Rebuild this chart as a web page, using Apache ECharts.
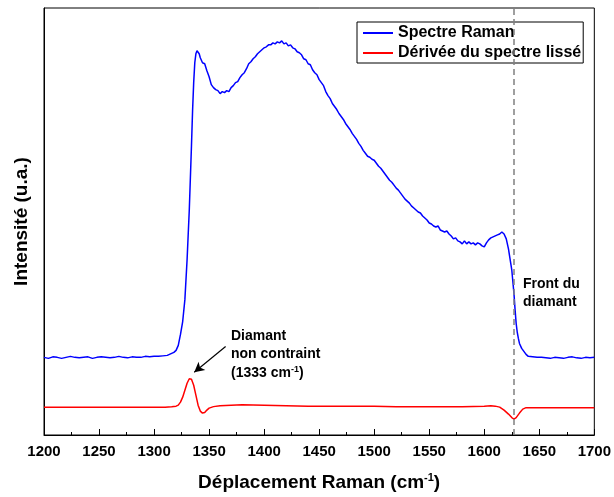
<!DOCTYPE html>
<html><head><meta charset="utf-8">
<script src="https://cdn.jsdelivr.net/npm/echarts@6/dist/echarts.min.js"></script>
<style>html,body{margin:0;padding:0;background:#fff}#c{width:614px;height:497px}</style>
</head><body><div id="c"></div>
<script>
var ramanX = [1200,1204,1208,1212,1216,1220,1224,1228,1232,1236,1240,1244,1248,1252,1256,1260,1264,1268,1272,1276,1280,1284,1288,1292,1296,1300,1304,1308,1312,1316,1318,1320,1322,1324,1326,1328,1330,1332,1334,1335,1336,1337,1338,1339,1340,1341,1342,1344,1346,1348,1350,1352,1354,1356,1358,1360,1362,1364,1366,1368,1370,1372,1374,1376,1378,1380,1382,1384,1386,1388,1390,1392,1394,1396,1398,1400,1402,1404,1406,1408,1410,1412,1414,1416,1418,1420,1422,1424,1426,1428,1430,1432,1434,1436,1438,1440,1442,1444,1446,1448,1450,1452,1454,1456,1458,1460,1462,1464,1466,1468,1470,1472,1474,1476,1478,1480,1482,1484,1486,1488,1490,1492,1494,1496,1498,1500,1502,1504,1506,1508,1510,1512,1514,1516,1518,1520,1522,1524,1526,1528,1530,1532,1534,1536,1538,1540,1542,1544,1546,1548,1550,1552,1554,1556,1558,1560,1562,1564,1566,1568,1570,1572,1574,1576,1578,1580,1582,1584,1586,1588,1590,1592,1594,1596,1598,1600,1602,1604,1606,1608,1610,1612,1614,1616,1618,1620,1622,1623,1624,1625,1626,1627,1628,1629,1630,1631,1632,1634,1636,1638,1640,1644,1648,1652,1656,1660,1664,1668,1672,1676,1680,1684,1688,1692,1696,1700];
var ramanY = [72,71,72.5,72,71,72,73,72,71.5,72,72.5,71,72,72.5,72,71.5,72,73,72,71.5,72.5,72,72,73,72.5,73,73,73.5,74,76,77,79,84,95,108,130,170,220,285,320,348,368,377,380,379,377,373,368,367,360,354,346,343,341,340,337,339,338,340,339,343,345,348,349,353,356,358,362,367,369,372,374,377,379,381,383,384,386,386,388,387,389,388,390,387,388,385,386,383,382,379,378,376,372,371,367,366,361,358,356,351,348,345,339,335,332,327,324,321,317,314,311,307,304,301,297,294,291,287,284,280,277,274,273,271,270,267,264,262,259,256,253,250,248,245,242,240,237,234,231,229,227,224,222,220,218,217,214,212,210,207,206,204,203,204,200,199,198,199,196,194,191,192,189,188,186,189,186,188,186,187,185,187,186,184,183,187,190,192,193,194,195,196,198,196,191,181,174,167,160,148,136,120,106,97,91,86,81,78,75,73,72.5,72,72,71.5,71,72,71.5,71,72,72.5,71.5,71,72,71.5,72];
var derivX = [1200,1210,1220,1230,1240,1250,1260,1270,1280,1290,1300,1310,1316,1320,1322,1324,1326,1328,1330,1332,1333,1334,1336,1338,1340,1342,1344,1346,1348,1350,1354,1360,1370,1380,1400,1420,1440,1460,1480,1500,1520,1540,1560,1580,1600,1606,1610,1614,1618,1622,1625,1627,1629,1632,1635,1638,1642,1660,1680,1700];
var derivY = [22,22,22,22,22,22,22,22,22,22,22,22,22.5,23,24,27,32,39,46,50.5,51,50,44,34,24,18,16,16.5,19,21,22.5,23.5,24,24.5,24,23.5,23,23,23,23,22.5,22.5,22.5,22.5,23,23.5,23,22,19,15,11.5,10,11.5,16,20,21.5,21.5,21.5,21.5,21.5];
var xTicks = [1200,1250,1300,1350,1400,1450,1500,1550,1600,1650,1700];
var diamondFront = 1627;
var seriesNames = ['Spectre Raman', 'Dérivée du spectre lissé'];

function pairs(xs, ys){ return xs.map(function(x,i){ return [x, ys[i]]; }); }

var chart = echarts.init(document.getElementById('c'));
var FONT = 'Liberation Sans, Arial, sans-serif';
var richA = {fontFamily: FONT, fontWeight: 'bold', fontSize: 14, fill: '#000', color: '#000'};
var richS = {fontFamily: FONT, fontWeight: 'bold', fontSize: 9, fill: '#000', color: '#000', verticalAlign: 'top', padding: [0,0,8,0]};
chart.setOption({
  animation: false,
  textStyle: {fontFamily: FONT},
  grid: {left: 44, right: 17, top: 8, bottom: 60, show: true, borderColor: '#000', borderWidth: 1},
  legend: {
    data: seriesNames, orient: 'vertical', left: 357, top: 22,
    itemWidth: 30, itemHeight: 2, icon: 'rect', itemGap: 4,
    borderColor: '#000', borderWidth: 1, padding: [3, 2, 2, 6],
    textStyle: {fontFamily: FONT, fontWeight: 'bold', fontSize: 16, color: '#000'},
    backgroundColor: '#fff'
  },
  xAxis: {
    type: 'value', min: xTicks[0], max: xTicks[xTicks.length-1], interval: 50,
    axisLine: {lineStyle: {color: '#000', width: 1}},
    axisTick: {inside: true, length: 6, lineStyle: {color: '#000'}},
    minorTick: {show: true, splitNumber: 2, length: 3, lineStyle: {color: '#000'}},
    splitLine: {show: false},
    axisLabel: {fontFamily: FONT, fontWeight: 'bold', fontSize: 15, color: '#000', margin: 9,
      formatter: function(v){ return String(v); }},
    name: '{a|Déplacement Raman (cm}{s|-1}{a|)}', nameLocation: 'middle', nameGap: 37,
    nameTextStyle: {rich: {
      a: {fontFamily: FONT, fontWeight: 'bold', fontSize: 19, color: '#000'},
      s: {fontFamily: FONT, fontWeight: 'bold', fontSize: 11, color: '#000', verticalAlign: 'top', padding: [0,0,10,0]}
    }}
  },
  yAxis: {
    type: 'value', min: 0, max: 429,
    axisLine: {show: true, lineStyle: {color: '#000'}},
    axisTick: {show: false}, axisLabel: {show: false}, splitLine: {show: false},
    name: 'Intensité (u.a.)', nameLocation: 'middle', nameGap: 13,
    nameTextStyle: {fontFamily: FONT, fontWeight: 'bold', fontSize: 19, color: '#000'}
  },
  series: [
    {
      name: seriesNames[0], type: 'line', data: pairs(ramanX, ramanY.map(function(v){return v + 6;})), showSymbol: false,
      lineStyle: {color: '#0000ff', width: 1.5}, itemStyle: {color: '#0000ff'},
      markLine: {
        silent: true, symbol: ['none','none'],
        lineStyle: {color: '#808080', type: [6, 4], width: 1.5},
        label: {show: false},
        data: [{xAxis: diamondFront}]
      }
    },
    {
      name: seriesNames[1], type: 'line', data: pairs(derivX, derivY.map(function(v){return v + 6;})), showSymbol: false,
      lineStyle: {color: '#ff0000', width: 1.5}, itemStyle: {color: '#ff0000'},
      markLine: {
        silent: true, symbol: ['none','arrow'], symbolSize: [8, 10],
        lineStyle: {color: '#000', type: 'solid', width: 1.2},
        label: {show: false},
        data: [[{coord: [1365, 89]}, {coord: [1336.5, 63]}]]
      }
    }
  ],
  graphic: [
    {type: 'text', left: 231, top: 329, style: {text: 'Diamant', font: 'bold 14px ' + FONT, fill: '#000'}},
    {type: 'text', left: 231, top: 347, style: {text: 'non contraint', font: 'bold 14px ' + FONT, fill: '#000'}},
    {type: 'text', left: 231, top: 365, style: {text: '{a|(1333 cm}{s|-1}{a|)}', rich: {a: richA, s: richS}}},
    {type: 'text', left: 523, top: 277, style: {text: 'Front du', font: 'bold 14px ' + FONT, fill: '#000'}},
    {type: 'text', left: 523, top: 295, style: {text: 'diamant', font: 'bold 14px ' + FONT, fill: '#000'}}
  ]
});
</script></body></html>
